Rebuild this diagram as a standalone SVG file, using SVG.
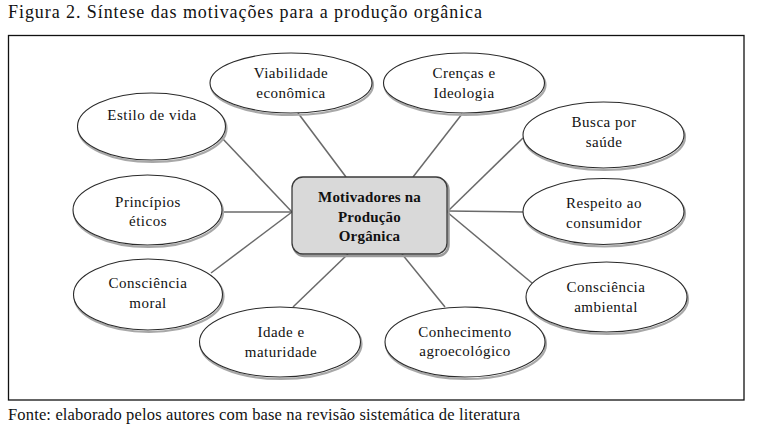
<svg xmlns="http://www.w3.org/2000/svg" width="759" height="440" viewBox="0 0 759 440">
<style>
.sh{fill:none;stroke:#a8a8a8;stroke-width:2.2}
.el{fill:#fff;stroke:#2a2a2a;stroke-width:1.1}
.cn{stroke:#6a6a6a;stroke-width:1.5;fill:none}
</style>
<rect x="0" y="0" width="759" height="440" fill="#fff"/>
<text x="8" y="18" style="font-family:'Liberation Serif',serif;font-size:18px" fill="#111" textLength="474" lengthAdjust="spacing">Figura 2. Síntese das motivações para a produção orgânica</text>
<text x="8" y="420" style="font-family:'Liberation Serif',serif;font-size:16.5px" fill="#111" textLength="512" lengthAdjust="spacing">Fonte: elaborado pelos autores com base na revisão sistemática de literatura</text>
<rect x="8.5" y="35.5" width="735.5" height="364.5" fill="none" stroke="#111" stroke-width="1.3"/>
<g id="connectors">
<line class="cn" x1="222" y1="138" x2="292" y2="212"/>
<line class="cn" x1="222" y1="212" x2="292" y2="212"/>
<line class="cn" x1="211" y1="273" x2="292" y2="212"/>
<line class="cn" x1="298" y1="113" x2="346" y2="177"/>
<line class="cn" x1="462" y1="114" x2="413" y2="177"/>
<line class="cn" x1="523" y1="138" x2="447" y2="212"/>
<line class="cn" x1="523" y1="212" x2="447" y2="211"/>
<line class="cn" x1="532" y1="283" x2="447" y2="212"/>
<line class="cn" x1="402" y1="254" x2="445" y2="307"/>
<line class="cn" x1="348" y1="254" x2="293" y2="307"/>
</g>
<g id="center" fill="#111" text-anchor="middle" letter-spacing="0.2">
<rect x="293.5" y="179" width="155" height="77" rx="11" fill="none" stroke="#9a9a9a" stroke-width="2.5"/>
<rect x="292" y="177" width="155" height="77" rx="11" fill="#d9d9d9" stroke="#3a3a3a" stroke-width="1.3"/>
<text x="369.5" y="202" style="font-family:'Liberation Serif',serif;font-size:15px;font-weight:bold">Motivadores na</text>
<text x="369.5" y="222" style="font-family:'Liberation Serif',serif;font-size:15px;font-weight:bold">Produção</text>
<text x="369.5" y="241" style="font-family:'Liberation Serif',serif;font-size:15px;font-weight:bold">Orgânica</text>
</g>
<g fill="#111" text-anchor="middle" letter-spacing="0.5">
<g id="estilo">
<ellipse class="sh" cx="152.5" cy="128.5" rx="74" ry="33.5"/>
<ellipse class="el" cx="151.5" cy="126.5" rx="74" ry="33.5"/>
<text x="152" y="120" style="font-family:'Liberation Serif',serif;font-size:15px">Estilo de vida</text>
</g>
<g id="viabilidade">
<ellipse class="sh" cx="292" cy="85" rx="81" ry="30"/>
<ellipse class="el" cx="291" cy="83" rx="81" ry="30"/>
<text x="291" y="78" style="font-family:'Liberation Serif',serif;font-size:15px">Viabilidade</text>
<text x="291" y="98" style="font-family:'Liberation Serif',serif;font-size:15px">econômica</text>
</g>
<g id="crencas">
<ellipse class="sh" cx="465" cy="85" rx="80.5" ry="30"/>
<ellipse class="el" cx="464" cy="83" rx="80.5" ry="30"/>
<text x="464" y="78" style="font-family:'Liberation Serif',serif;font-size:15px">Crenças e</text>
<text x="464" y="98" style="font-family:'Liberation Serif',serif;font-size:15px">Ideologia</text>
</g>
<g id="busca">
<ellipse class="sh" cx="604.5" cy="137" rx="80.5" ry="33"/>
<ellipse class="el" cx="603.5" cy="135" rx="80.5" ry="33"/>
<text x="604" y="127" style="font-family:'Liberation Serif',serif;font-size:15px">Busca por</text>
<text x="604" y="147" style="font-family:'Liberation Serif',serif;font-size:15px">saúde</text>
</g>
<g id="respeito">
<ellipse class="sh" cx="604.5" cy="213.5" rx="80.5" ry="33"/>
<ellipse class="el" cx="603.5" cy="211.5" rx="80.5" ry="33"/>
<text x="604" y="208" style="font-family:'Liberation Serif',serif;font-size:15px">Respeito ao</text>
<text x="604" y="228" style="font-family:'Liberation Serif',serif;font-size:15px">consumidor</text>
</g>
<g id="ambiental">
<ellipse class="sh" cx="607.5" cy="299" rx="80.5" ry="35"/>
<ellipse class="el" cx="606.5" cy="297" rx="80.5" ry="35"/>
<text x="606" y="292" style="font-family:'Liberation Serif',serif;font-size:15px">Consciência</text>
<text x="606" y="312" style="font-family:'Liberation Serif',serif;font-size:15px">ambiental</text>
</g>
<g id="conhecimento">
<ellipse class="sh" cx="466" cy="344" rx="80" ry="35"/>
<ellipse class="el" cx="465" cy="342" rx="80" ry="35"/>
<text x="465" y="337" style="font-family:'Liberation Serif',serif;font-size:15px">Conhecimento</text>
<text x="465" y="356" style="font-family:'Liberation Serif',serif;font-size:15px">agroecológico</text>
</g>
<g id="idade">
<ellipse class="sh" cx="281" cy="344" rx="80.5" ry="35"/>
<ellipse class="el" cx="280" cy="342" rx="80.5" ry="35"/>
<text x="281" y="337" style="font-family:'Liberation Serif',serif;font-size:15px">Idade e</text>
<text x="281" y="357" style="font-family:'Liberation Serif',serif;font-size:15px">maturidade</text>
</g>
<g id="moral">
<ellipse class="sh" cx="149" cy="296.5" rx="74.5" ry="35.5"/>
<ellipse class="el" cx="148" cy="294.5" rx="74.5" ry="35.5"/>
<text x="148" y="288" style="font-family:'Liberation Serif',serif;font-size:15px">Consciência</text>
<text x="148" y="308" style="font-family:'Liberation Serif',serif;font-size:15px">moral</text>
</g>
<g id="principios">
<ellipse class="sh" cx="148.5" cy="212" rx="74.5" ry="35"/>
<ellipse class="el" cx="147.5" cy="210" rx="74.5" ry="35"/>
<text x="148" y="207" style="font-family:'Liberation Serif',serif;font-size:15px">Princípios</text>
<text x="148" y="226" style="font-family:'Liberation Serif',serif;font-size:15px">éticos</text>
</g>
</g>
</svg>
